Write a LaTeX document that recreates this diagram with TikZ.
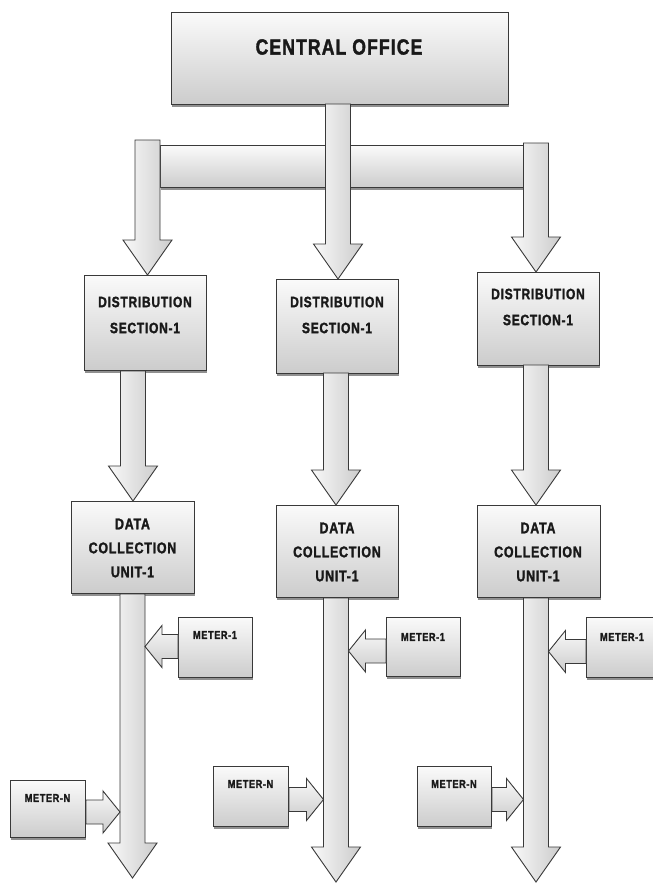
\documentclass[tikz,border=0pt]{standalone}
\usepackage{fontspec}
\newfontfamily\labfont[FakeStretch=0.8,LetterSpace=5,FakeBold=1.6]{Liberation Sans}
\usetikzlibrary{shadows,calc}
\tikzset{
  gbox/.style={draw=gray!45!black, line width=1pt, inner sep=0pt, anchor=north west,
    top color=gray!4, bottom color=gray!40,
    drop shadow={shadow xshift=0.5pt, shadow yshift=-2.5pt, fill=gray!55!black, opacity=0.6}},
  lab/.style={align=center, text=black!90, inner sep=0pt},
  varrowfill/.style={draw=gray!45!black, line width=0.9pt, left color=gray!5, right color=gray!40},
  harrowfill/.style={draw=gray!45!black, line width=0.9pt, top color=gray!5, bottom color=gray!40},
}
% vertical block arrow: #1 start, #2 tip (only y used)
\newcommand\varrowshape[2]{%
  \path[varrowfill] let \p1=#1, \p2=#2 in
    (\x1-12.5pt,\y1) -- (\x1+12.5pt,\y1) -- (\x1+12.5pt,\y2+35pt) -- (\x1+24.5pt,\y2+35pt)
    -- (\x1,\y2) -- (\x1-24.5pt,\y2+35pt) -- (\x1-12.5pt,\y2+35pt) -- cycle;}
% left-pointing arrow: #1 start (box west), #2 column coordinate, #3 y shift
\newcommand\leftarrowshape[3]{%
  \path[harrowfill] let \p1=#1, \p2=#2 in
    (\x2+12.5pt,\y1-#3) -- (\x2+29.5pt,\y1-#3+21pt) -- (\x2+29.5pt,\y1-#3+12pt) -- (\x1,\y1-#3+12pt)
    -- (\x1,\y1-#3-12pt) -- (\x2+29.5pt,\y1-#3-12pt) -- (\x2+29.5pt,\y1-#3-21pt) -- cycle;}
% right-pointing arrow: #1 start (box east), #2 column coordinate, #3 y shift
\newcommand\rightarrowshape[3]{%
  \path[harrowfill] let \p1=#1, \p2=#2 in
    (\x2-12.5pt,\y1-#3) -- (\x2-29.5pt,\y1-#3+21pt) -- (\x2-29.5pt,\y1-#3+12pt) -- (\x1,\y1-#3+12pt)
    -- (\x1,\y1-#3-12pt) -- (\x2-29.5pt,\y1-#3-12pt) -- (\x2-29.5pt,\y1-#3-21pt) -- cycle;}
\begin{document}
\begin{tikzpicture}[x=1pt,y=-1pt]
\clip (0,0) rectangle (653,884);
\fill[white] (0,0) rectangle (653,884);

% bar
\node[gbox, minimum width=365pt, minimum height=42pt] (bar) at (160,145) {};

% boxes
\node[gbox, minimum width=337pt, minimum height=92pt] (co) at (171,12) {};
\node[gbox, minimum width=122pt, minimum height=95pt] (ds1) at (84,275) {};
\node[gbox, minimum width=122pt, minimum height=94pt] (ds2) at (276,279) {};
\node[gbox, minimum width=122pt, minimum height=93pt] (ds3) at (477,272) {};
\node[gbox, minimum width=123pt, minimum height=92pt] (dcu1) at (71,501) {};
\node[gbox, minimum width=122pt, minimum height=92pt] (dcu2) at (276,505) {};
\node[gbox, minimum width=123pt, minimum height=92pt] (dcu3) at (477,505) {};
\node[gbox, minimum width=74pt, minimum height=60pt] (m1a) at (178,617) {};
\node[gbox, minimum width=74pt, minimum height=59pt] (m1b) at (386,617) {};
\node[gbox, minimum width=80pt, minimum height=60pt] (m1c) at (586,617) {};
\node[gbox, minimum width=75pt, minimum height=57pt] (mna) at (10,780) {};
\node[gbox, minimum width=75pt, minimum height=60pt] (mnb) at (213,766) {};
\node[gbox, minimum width=74pt, minimum height=60pt] (mnc) at (417,766) {};

% free ends / arrow origins
\coordinate (lt) at (147.5,140);
\coordinate (rt) at (536,143);
\coordinate (c1) at (132.5,878);
\coordinate (c2) at (336,882);
\coordinate (c3) at (536,882);

% arrows from bar and central office
\varrowshape{(lt)}{(ds1.north)}
\varrowshape{(rt)}{(ds3.north)}
\varrowshape{(338,104)}{(ds2.north)}

% distribution -> data collection
\varrowshape{(dcu1.north |- ds1.south)}{(dcu1.north)}
\varrowshape{(336,373)}{(dcu2.north)}
\varrowshape{(536,365)}{(dcu3.north)}

% data collection downward
\varrowshape{(c1 |- dcu1.south)}{(c1)}
\varrowshape{(c2 |- dcu2.south)}{(c2)}
\varrowshape{(c3 |- dcu3.south)}{(c3)}

% meter arrows
\leftarrowshape{(m1a.west)}{(c1)}{-1pt}
\leftarrowshape{(m1b.west)}{(c2)}{4pt}
\leftarrowshape{(m1c.west)}{(c3)}{4pt}
\rightarrowshape{(mna.east)}{(c1)}{3pt}
\rightarrowshape{(mnb.east)}{(c2)}{3pt}
\rightarrowshape{(mnc.east)}{(c3)}{3pt}

% labels
\node[lab, font={\labfont\bfseries\fontsize{22}{26}\selectfont}] (cot) at (339,47) {CENTRAL OFFICE};
\tikzset{dsfont/.style={font={\labfont\bfseries\fontsize{15}{26}\selectfont}}}
\node[lab, dsfont] (ds1t) at (145,315) {DISTRIBUTION\\SECTION-1};
\node[lab, dsfont] (ds2t) at (337,315) {DISTRIBUTION\\SECTION-1};
\node[lab, dsfont] (ds3t) at (538,307) {DISTRIBUTION\\SECTION-1};
\tikzset{dcfont/.style={font={\labfont\bfseries\fontsize{15.5}{24}\selectfont}}}
\node[lab, dcfont] (dcu1t) at (132.5,548) {DATA\\COLLECTION\\UNIT-1};
\node[lab, dcfont] (dcu2t) at (337,552) {DATA\\COLLECTION\\UNIT-1};
\node[lab, dcfont] (dcu3t) at (538,552) {DATA\\COLLECTION\\UNIT-1};
\tikzset{mfont/.style={font={\labfont\bfseries\fontsize{11.5}{14}\selectfont}}}
\node[lab, mfont] (m1at) at (215,635) {METER-1};
\node[lab, mfont] (m1bt) at (423,637) {METER-1};
\node[lab, mfont] (m1ct) at (622,637) {METER-1};
\node[lab, mfont] (mnat) at (47.5,798) {METER-N};
\node[lab, mfont] (mnbt) at (250.5,784) {METER-N};
\node[lab, mfont] (mnct) at (454,784) {METER-N};
\end{tikzpicture}
\end{document}
